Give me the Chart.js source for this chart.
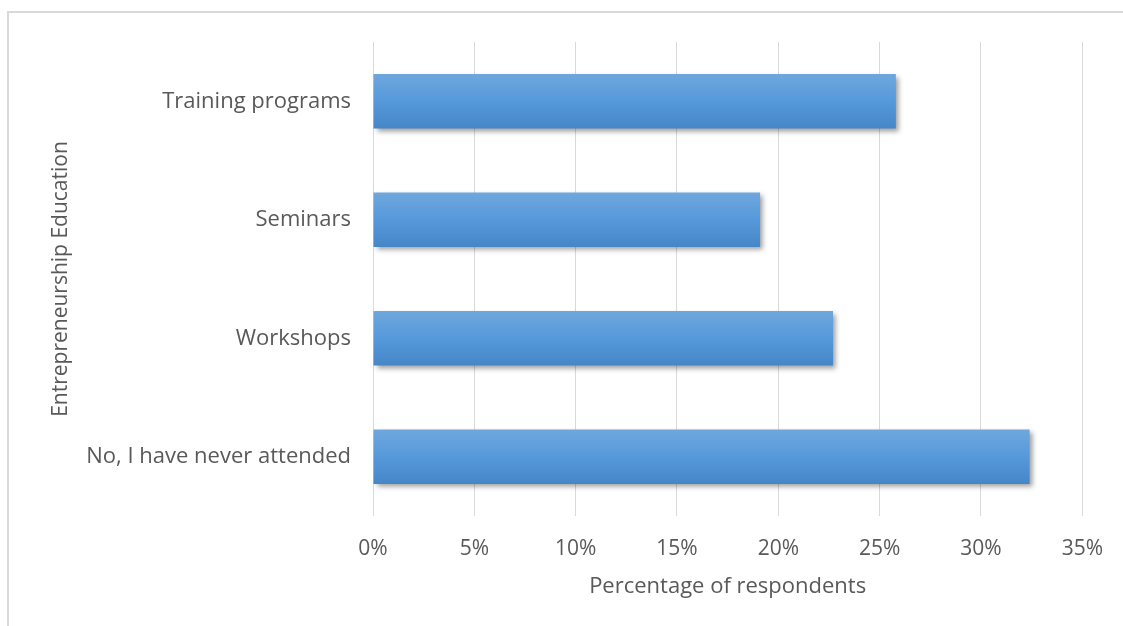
<!DOCTYPE html>
<html>
<head>
<meta charset="utf-8">
<script src="https://cdn.jsdelivr.net/npm/chart.js@4.4.1/dist/chart.umd.min.js"></script>
<style>
  html, body { margin: 0; padding: 0; background: #ffffff; }
  #wrap { width: 1123px; height: 626px; position: relative; }
</style>
</head>
<body>
<div id="wrap"><canvas id="chart" width="1123" height="626"></canvas></div>
<script>
// Forms of entrepreneurship education attended, share of respondents (%)
const categories = ['Training programs', 'Seminars', 'Workshops', 'No, I have never attended'];
const shares = [25.8, 19.1, 22.7, 32.4];
const xTicks = [0, 5, 10, 15, 20, 25, 30, 35];

const textColor = '#595959';
const gridColor = '#d9d9d9';
const fontFamily = '"Open Sans", "Liberation Sans", sans-serif';
const barFraction = 0.46;

// Vertical blue gradient for each bar, computed from the category scale
function barGradient(c) {
  const chart = c.chart;
  const yScale = chart.scales.y;
  if (!yScale || !chart.chartArea || c.dataIndex === undefined) return '#5699db';
  const center = yScale.getPixelForValue(c.dataIndex);
  const half = (chart.chartArea.height / categories.length) * barFraction / 2;
  const g = chart.ctx.createLinearGradient(0, center - half, 0, center + half);
  g.addColorStop(0, '#6fa7dd');
  g.addColorStop(0.5, '#5699db');
  g.addColorStop(1, '#4586c7');
  return g;
}

// Frame around the chart plus soft drop shadow behind the bars
const decor = {
  id: 'decor',
  beforeDraw(chart) {
    const ctx = chart.ctx;
    ctx.save();
    ctx.strokeStyle = '#d9d9d9';
    ctx.lineWidth = 2;
    ctx.strokeRect(8, 12, 1300, 800);
    ctx.restore();
  },
  beforeDatasetsDraw(chart) {
    const ctx = chart.ctx;
    ctx.save();
    ctx.shadowColor = 'rgba(0,0,0,0.38)';
    ctx.shadowBlur = 5;
    ctx.shadowOffsetX = 3;
    ctx.shadowOffsetY = 3;
  },
  afterDatasetsDraw(chart) {
    chart.ctx.restore();
  }
};

new Chart(document.getElementById('chart'), {
  type: 'bar',
  data: {
    labels: categories,
    datasets: [{
      data: shares,
      backgroundColor: barGradient,
      borderWidth: 0,
      barPercentage: barFraction,
      categoryPercentage: 1
    }]
  },
  plugins: [decor],
  options: {
    indexAxis: 'y',
    responsive: false,
    animation: false,
    layout: { padding: { left: 40, top: 42, right: 38, bottom: 14 } },
    plugins: { legend: { display: false }, tooltip: { enabled: false } },
    scales: {
      x: {
        min: 0,
        max: 35,
        afterBuildTicks(scale) { scale.ticks = xTicks.map(v => ({ value: v })); },
        afterFit(scale) { scale.height = 96; },
        grid: { color: gridColor, lineWidth: 1, drawTicks: false },
        border: { display: false },
        ticks: {
          color: textColor,
          font: { family: fontFamily, size: 21 },
          padding: 20,
          callback: v => v + '%'
        },
        title: {
          display: true,
          text: 'Percentage of respondents',
          color: textColor,
          font: { family: fontFamily, size: 22 },
          padding: { top: 0, bottom: 12 }
        }
      },
      y: {
        afterFit(scale) { scale.width = 333; },
        grid: { display: false },
        border: { display: false },
        ticks: {
          color: textColor,
          font: { family: fontFamily, size: 22 },
          padding: 14
        },
        title: {
          display: true,
          text: 'Entrepreneurship Education',
          color: textColor,
          font: { family: fontFamily, size: 21 },
          padding: { top: 8, bottom: 0 }
        }
      }
    }
  }
});
</script>
</body>
</html>
